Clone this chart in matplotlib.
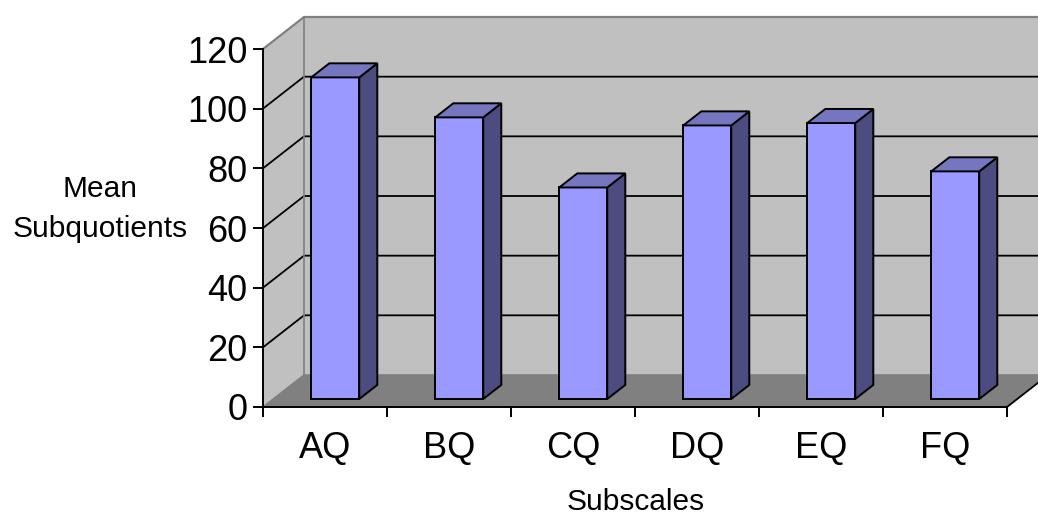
import matplotlib
matplotlib.use("Agg")
import matplotlib.pyplot as plt
from matplotlib.patches import Polygon
from matplotlib.lines import Line2D

# Data
categories = ["AQ", "BQ", "CQ", "DQ", "EQ", "FQ"]
mean_subquotients = [107.8, 94.4, 70.9, 91.7, 92.5, 76.3]
y_ticks = [0, 20, 40, 60, 80, 100, 120]

plt.rcParams["font.family"] = ["Liberation Sans", "DejaVu Sans"]

W, H, DPI = 1038, 515, 100
fig = plt.figure(figsize=(W / DPI, H / DPI), dpi=DPI)

# Front plane of the 3-D box in figure pixels
left_px, right_px, bottom_px, top_px = 263, 1007, 108, 466
ax = fig.add_axes([left_px / W, bottom_px / H,
                   (right_px - left_px) / W, (top_px - bottom_px) / H])
ncat = len(categories)
ymax = 120
ax.set_xlim(0, ncat)
ax.set_ylim(0, ymax)
ax.patch.set_visible(False)

# Oblique depth offset (full depth) converted to data units
px_per_cat = (right_px - left_px) / ncat
px_per_val = (top_px - bottom_px) / ymax
DX = 41 / px_per_cat
DV = 32 / px_per_val


def P(x, v, d):
    return (x + d * DX, v + d * DV)


wall = "#C0C0C0"
floor_c = "#808080"
edge_gray = "#808080"

# Back wall
ax.add_patch(Polygon([P(0, 0, 1), P(ncat, 0, 1), P(ncat, ymax, 1), P(0, ymax, 1)],
                     closed=True, facecolor=wall, edgecolor="none", clip_on=False, zorder=0.5))
# Left side wall
ax.add_patch(Polygon([P(0, 0, 0), P(0, 0, 1), P(0, ymax, 1), P(0, ymax, 0)],
                     closed=True, facecolor=wall, edgecolor="none", clip_on=False, zorder=0.5))
# Floor
ax.add_patch(Polygon([P(0, 0, 0), P(ncat, 0, 0), P(ncat, 0, 1), P(0, 0, 1)],
                     closed=True, facecolor=floor_c, edgecolor="none", clip_on=False, zorder=0.6))


def seg(pts, color, lw, z):
    xs, ys = zip(*pts)
    ax.add_line(Line2D(xs, ys, color=color, lw=lw, clip_on=False, zorder=z,
                       solid_capstyle="butt"))


# Gridlines across the side wall and back wall
for v in y_ticks[1:-1]:
    seg([P(0, v, 0), P(0, v, 1), P(ncat, v, 1)], "black", 1.3, 0.8)

# Wall borders
seg([P(0, ymax, 0), P(0, ymax, 1), P(ncat, ymax, 1)], edge_gray, 1.6, 0.9)
seg([P(0, 0, 1), P(0, ymax, 1)], edge_gray, 1.2, 0.9)
seg([P(0, 0, 0), P(0, 0, 1), P(ncat, 0, 1)], edge_gray, 1.2, 0.9)
# Right edge of the floor
seg([P(ncat, 0, 0), P(ncat, 0, 1)], "black", 1.3, 0.9)

# Bars
bar_w = 48 / px_per_cat
d0, d1 = 0.25, 0.69
front_c, side_c, top_c = "#9999FF", "#4C4C80", "#7575C0"
for i, val in enumerate(mean_subquotients):
    x0 = i + 0.5 - bar_w / 2
    x1 = i + 0.5 + bar_w / 2
    faces = [
        ([P(x0, 0, d0), P(x1, 0, d0), P(x1, val, d0), P(x0, val, d0)], front_c),
        ([P(x1, 0, d0), P(x1, 0, d1), P(x1, val, d1), P(x1, val, d0)], side_c),
        ([P(x0, val, d0), P(x1, val, d0), P(x1, val, d1), P(x0, val, d1)], top_c),
    ]
    for pts, c in faces:
        ax.add_patch(Polygon(pts, closed=True, facecolor=c, edgecolor="black",
                             lw=1.4, joinstyle="miter", clip_on=False, zorder=2))

# Axes lines and ticks
for s in ("top", "right"):
    ax.spines[s].set_visible(False)
for s in ("left", "bottom"):
    ax.spines[s].set_color("black")
    ax.spines[s].set_linewidth(1.4)
    ax.spines[s].set_zorder(1)

ax.set_yticks(y_ticks)
ax.set_yticklabels([str(t) for t in y_ticks])
ax.tick_params(axis="y", direction="out", length=7.2, width=1.4, color="black",
               labelsize=26, pad=4)

ax.set_xticks(range(ncat + 1))
ax.set_xticklabels([""] * (ncat + 1))
ax.set_xticks([i + 0.5 for i in range(ncat)], minor=True)
ax.set_xticklabels(categories, minor=True)
ax.tick_params(axis="x", which="major", direction="out", length=7.2, width=1.4,
               color="black")
ax.tick_params(axis="x", which="minor", length=0, labelsize=26, pad=17)

# Axis titles
fig.text(636 / W, 1 - 502 / H, "Subscales", fontsize=21.5, ha="center", va="center")
fig.text(100 / W, 1 - 189 / H, "Mean", fontsize=21.5, ha="center", va="center")
fig.text(100 / W, 1 - 229 / H, "Subquotients", fontsize=21.5, ha="center", va="center")

fig.savefig("out.png", dpi=DPI, facecolor="white")
